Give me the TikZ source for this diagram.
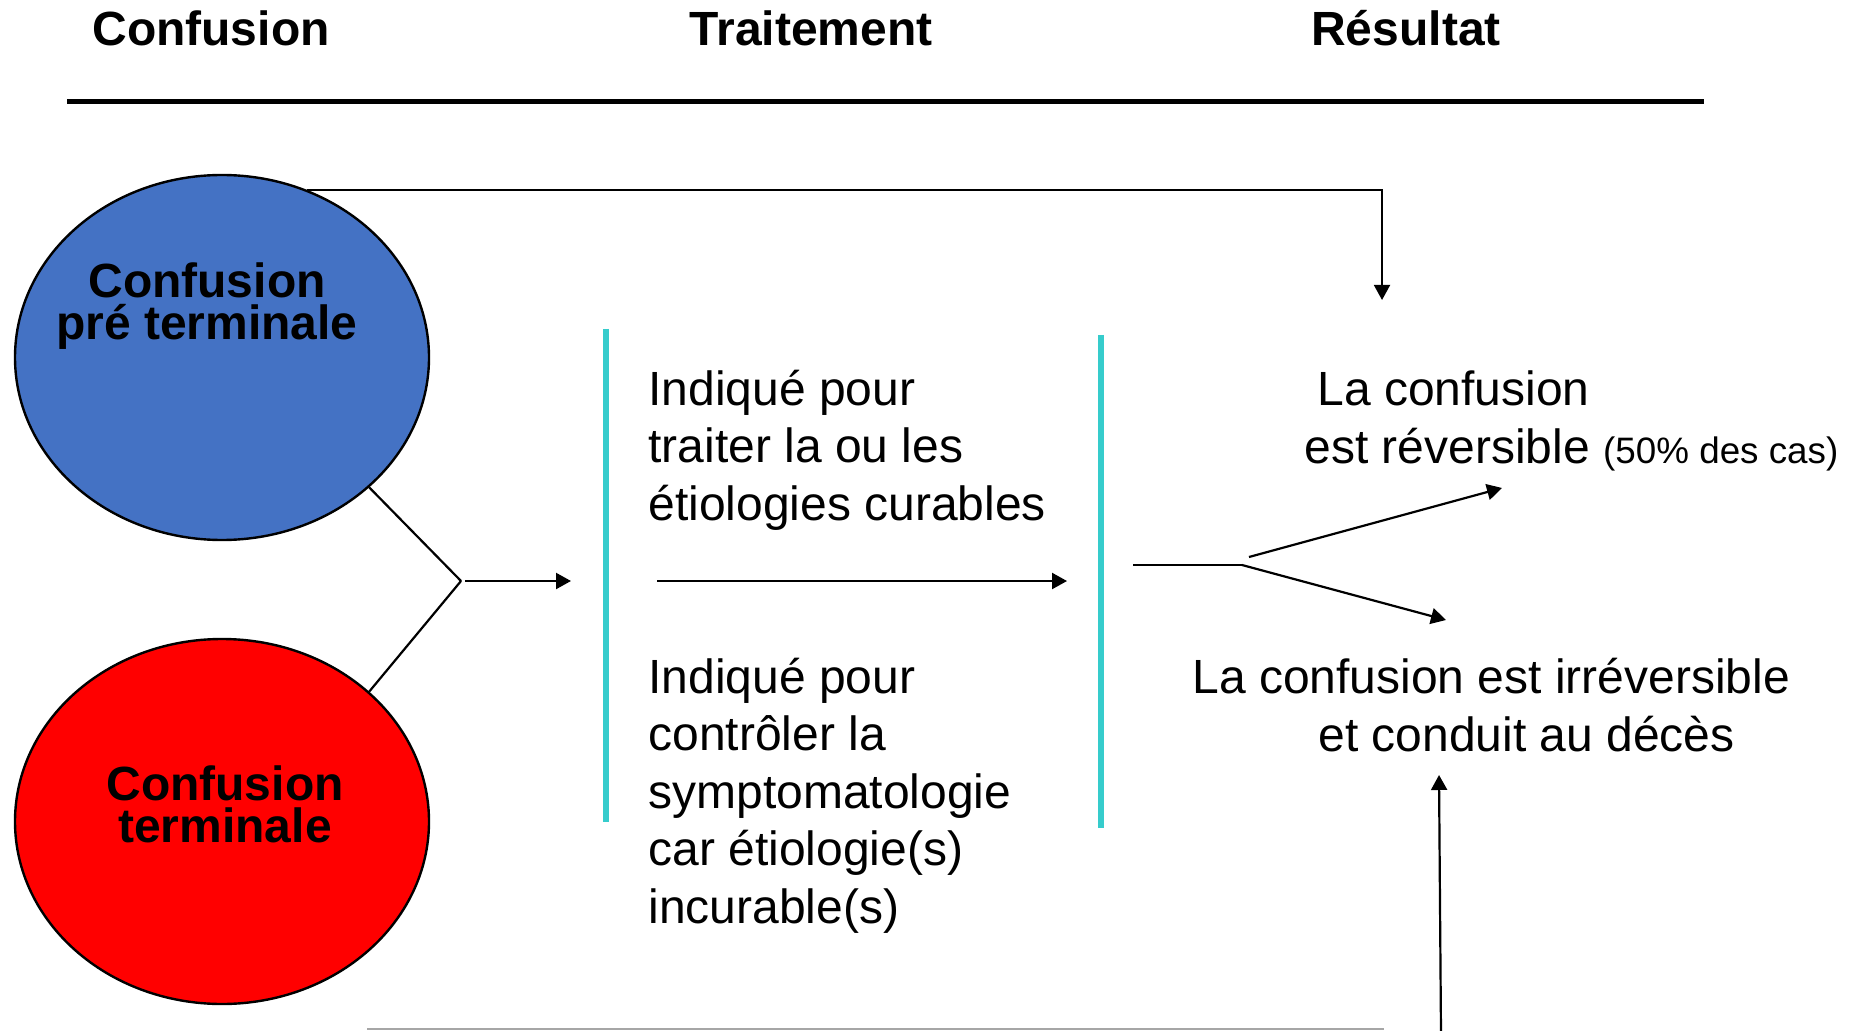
\documentclass[tikz,border=0pt]{standalone}
\usepackage{fontspec}
\setmainfont{Liberation Sans}
\usepackage{xcolor}
\usetikzlibrary{arrows.meta, positioning, shapes.geometric}

\definecolor{ovalblue}{HTML}{4472C4}
\definecolor{ovalred}{HTML}{FF0000}
\definecolor{divcyan}{HTML}{36CCCC}

\begin{document}
\begin{tikzpicture}[
  x=0.5pt, y=-0.5pt,
  oval/.style={draw, ellipse, line width=1.2pt, minimum width=207pt,
               minimum height=182.5pt, inner sep=0pt},
  ovaltxt/.style={align=center, inner sep=0pt, font=\fontsize{24}{21}\selectfont\bfseries},
  head/.style={inner sep=0pt, font=\fontsize{24}{28}\selectfont\bfseries},
  body/.style={align=left, inner sep=0pt, font=\fontsize{24}{28.75}\selectfont},
  arr/.style={-{Triangle[length=7.5pt, width=8pt]}, line width=1.1pt},
  link/.style={line width=1.1pt},
  divider/.style={draw=divcyan, line width=2.7pt}
]
\useasboundingbox (0,0) rectangle (1855,1031);
% column headings
\node[head, anchor=base] (hconf) at (211,46) {Confusion};
\node[head, anchor=base] (htrait) at (811,46) {Traitement};
\node[head, anchor=base] (hres) at (1406,46) {Résultat};
\draw[line width=2.5pt] (67,102) -- (1704,102);

% the two ovals (base = last line)
\node[oval, fill=ovalblue] (pre) at (222,357.5) {};
\node[oval, fill=ovalred] (term) at (222,821.5) {};
\node[ovaltxt, anchor=base] (pretxt) at (207,340) {Confusion\\pré terminale};
\node[ovaltxt, anchor=base] (termtxt) at (225,842) {Confusion\\terminale};

% separators
\draw[divider] (606,329) -- (606,822);
\draw[divider] (1101,335) -- (1101,828);

% treatment texts
\node[body, anchor=base west] (cur) at (648,520)
  {Indiqué pour\\traiter la ou les\\étiologies curables};
\node[body, anchor=base west] (incur) at (648,923)
  {Indiqué pour\\contrôler la\\symptomatologie\\car étiologie(s)\\incurable(s)};

% results
\node[body, anchor=base west] (rev) at (1304,463)
  {\hspace*{6.5pt}La confusion\\est réversible {\fontsize{18.4}{20}\selectfont(50\% des cas)}};
\node[body, anchor=base west] (irr) at (1192,751)
  {La confusion est irréversible\\\hspace*{63pt}et conduit au décès};

% connectors
\coordinate (j1) at (461,581);
\coordinate (j1a) at (465,581);
\coordinate (j1b) at (571,581);
\draw[link] (pre.south east) -- (j1);
\draw[link] (term.north east) -- (j1);
\draw[arr] (j1a) -- (j1b);
\coordinate (ma) at (657,581);
\coordinate (mb) at (1067,581);
\draw[arr] (ma) -- (mb);
\coordinate (j2a) at (1133,565);
\coordinate (j2) at (1242,565);
\coordinate (irrtip) at (1446,620);
\coordinate (revstart) at (1249,557);
\coordinate (revtip) at (1502,488);
\draw[link] (j2a) -- (j2);
\draw[arr] (j2) -- (irrtip);
\draw[arr] (revstart) -- (revtip);
\coordinate (toptip) at (1382,300);
\draw[arr, line width=0.9pt] (pre.63) -| (toptip);
\coordinate (botstart) at (1441,1035);
\coordinate (bottip) at (1439,775);
\draw[arr] (botstart) -- (bottip);
\draw[gray!70, line width=1pt] (367,1029) -- (1384,1029);
\end{tikzpicture}
\end{document}
